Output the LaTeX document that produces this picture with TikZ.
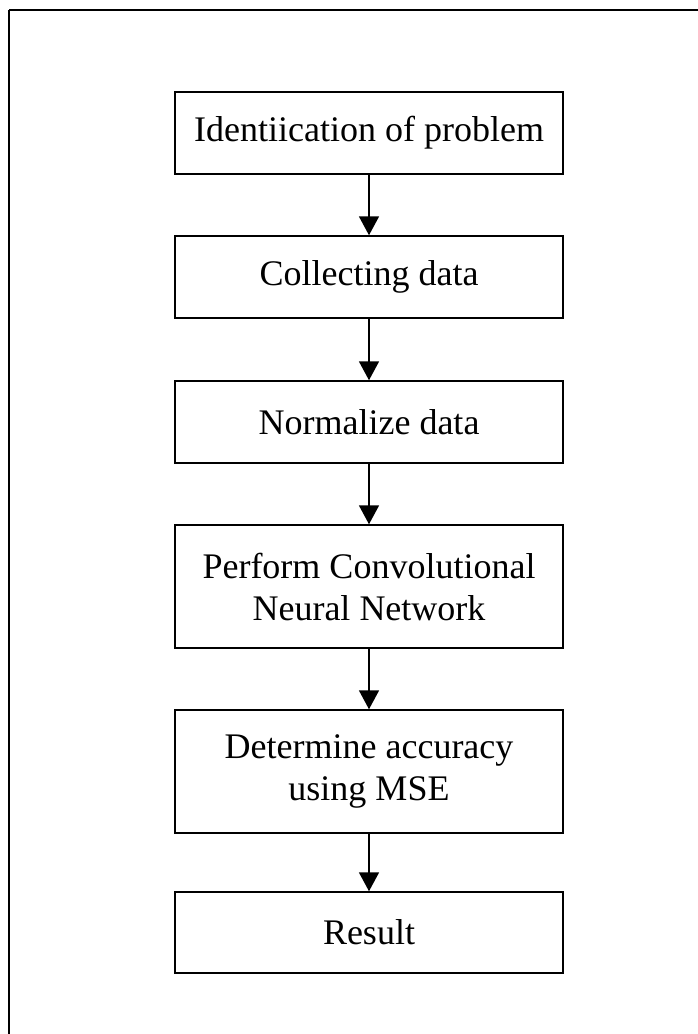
\documentclass[tikz,border=0pt]{standalone}
\usepackage{fontspec}
\setmainfont{Liberation Serif}
\usetikzlibrary{arrows.meta}
\begin{document}
\begin{tikzpicture}[x=1pt,y=-1pt,
  stepbox/.style={draw=black,line width=1.5pt,minimum width=388pt,inner sep=0pt,align=center,
    font=\fontsize{36}{42}\selectfont},
  flow/.style={line width=1.8pt,-{Triangle[length=19pt,width=20pt]}}]
\useasboundingbox (0,0) rectangle (698,1034);
\begin{scope}
\clip (0,0) rectangle (698,1034);
\draw[line width=2.2pt] (9,10) -- (720,10);
\draw[line width=2.2pt] (9,10) -- (9,1050);
\end{scope}
\node[stepbox,minimum height=82pt] (n1) at (369,133) {Identiication of problem};
\node[stepbox,minimum height=82pt] (n2) at (369,277) {Collecting data};
\node[stepbox,minimum height=82pt] (n3) at (369,422) {Normalize data};
\node[stepbox,minimum height=123pt] (n4) at (369,586.5) {Perform Convolutional\\Neural Network};
\node[stepbox,minimum height=123pt] (n5) at (369,771.5) {Determine accuracy\\using MSE};
\node[stepbox,minimum height=81pt] (n6) at (369,932.5) {Result};
\draw[flow] (n1) -- (n2);
\draw[flow] (n2) -- (n3);
\draw[flow] (n3) -- (n4);
\draw[flow] (n4) -- (n5);
\draw[flow] (n5) -- (n6);
\end{tikzpicture}
\end{document}
